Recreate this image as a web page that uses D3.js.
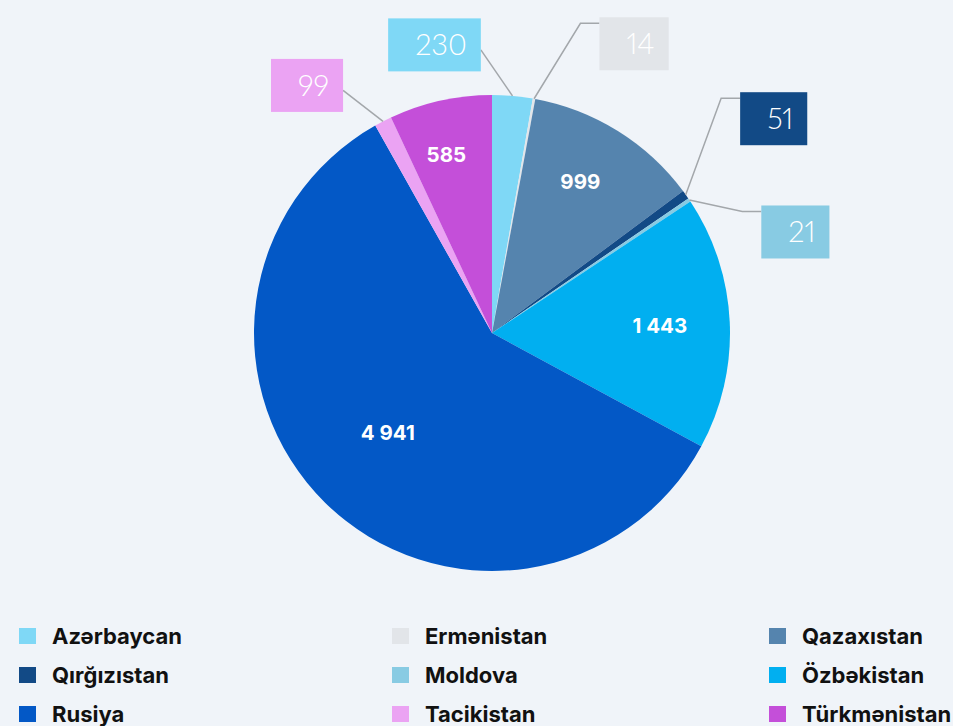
<!DOCTYPE html>
<html>
<head>
<meta charset="utf-8">
<script src="https://cdn.jsdelivr.net/npm/d3@7"></script>
<style>
  html, body { margin: 0; padding: 0; background: #f0f4f9; }
  svg { display: block; }
</style>
</head>
<body>
<svg id="chart" width="953" height="726"></svg>
<script>
// ---- data ----
const categories = ["Azərbaycan", "Ermənistan", "Qazaxıstan", "Qırğızıstan", "Moldova", "Özbəkistan", "Rusiya", "Tacikistan", "Türkmənistan"];
const values     = [230, 14, 999, 51, 21, 1443, 4941, 99, 585];
const labelTexts = ["230", "14", "999", "51", "21", "1 443", "4 941", "99", "585"];
const colors     = ["#7fd8f6", "#e2e5e9", "#5584ae", "#124a86", "#88cbe3", "#01aff0", "#0358c6", "#eba3f3", "#c44fd9"];

// ---- layout ----
const W = 953, H = 726;
const cx = 492, cy = 333, R = 238;
const outsideThreshold = 0.03; // share below which label goes outside in a box
// callout box centre offsets from the slice edge point (annotation layout)
const calloutOffsets = {
  "Azərbaycan": [-78, -51],
  "Ermənistan": [100, -55],
  "Qırğızıstan": [88, -76],
  "Moldova": [106, 32],
  "Tacikistan": [-76, -36]
};

const svg = d3.select("#chart");
svg.append("rect").attr("width", W).attr("height", H).attr("fill", "#f0f4f9");

const data = categories.map((c, i) => ({ name: c, value: values[i], label: labelTexts[i], color: colors[i] }));
const total = d3.sum(values);

const pie = d3.pie().value(d => d.value).sort(null);
const arcs = pie(data);
const arc = d3.arc().innerRadius(0).outerRadius(R);

const g = svg.append("g").attr("transform", `translate(${cx},${cy})`);

g.selectAll("path.slice").data(arcs).enter().append("path")
  .attr("class", "slice")
  .attr("d", arc)
  .attr("fill", d => d.data.color);

// inner labels
const inner = arcs.filter(a => a.data.value / total >= outsideThreshold);
g.selectAll("text.inner").data(inner).enter().append("text")
  .attr("class", "inner")
  .attr("transform", d => {
    const mid = (d.startAngle + d.endAngle) / 2;
    const spanDeg = (d.endAngle - d.startAngle) * 180 / Math.PI;
    const r = R * (0.79 - 0.00095 * spanDeg);
    return `translate(${r * Math.sin(mid) - 6},${-r * Math.cos(mid)})`;
  })
  .attr("text-anchor", "middle")
  .attr("dy", "0.36em")
  .attr("fill", "#ffffff")
  .style("font-family", "Inter, 'Open Sans', sans-serif")
  .style("font-weight", 700)
  .style("font-size", "20.5px")
  .text(d => d.data.label);

// outside callouts
const outer = arcs.filter(a => a.data.value / total < outsideThreshold);
const padL = 27, padR = 14, boxH = 53;
outer.forEach(d => {
  const mid = (d.startAngle + d.endAngle) / 2;
  const ex = R * Math.sin(mid), ey = -R * Math.cos(mid);
  const off = calloutOffsets[d.data.name] || [0, -60];
  const bcx = ex + off[0], bcy = ey + off[1];
  const grp = g.append("g");
  const line = grp.append("path").attr("fill", "none").attr("stroke", "#a3a7ab").attr("stroke-width", 1.5);
  const rect = grp.append("rect").attr("fill", d.data.color);
  const t = grp.append("text")
    .attr("fill", "#ffffff")
    .attr("dy", "0.36em")
    .style("font-family", "Lato, 'Open Sans', sans-serif")
    .style("font-weight", 300)
    .style("font-size", "29px")
    .style("font-variant-numeric", "proportional-nums")
    .text(d.data.label);
  const tw = t.node().getComputedTextLength();
  const bw = tw + padL + padR;
  const bx = bcx - bw / 2, by = bcy - boxH / 2;
  rect.attr("x", bx).attr("y", by).attr("width", bw).attr("height", boxH);
  t.attr("x", bx + padL).attr("y", bcy);
  let pts;
  if (off[0] > 0) {
    const ay = by + 6;
    pts = [[ex, ey], [bx - 19, ay], [bx, ay]];
  } else {
    const ay = bcy + 5;
    pts = [[ex, ey], [bx + bw, ay]];
  }
  line.attr("d", d3.line()(pts));
  line.lower();
});

// legend
const legendCols = [19, 392, 769];
const legendRows = [636, 675, 714];
const legend = svg.append("g");
data.forEach((d, i) => {
  const col = i % 3, row = Math.floor(i / 3);
  const x = legendCols[col], y = legendRows[row];
  legend.append("rect").attr("x", x).attr("y", y - 8).attr("width", 17).attr("height", 16).attr("fill", d.color);
  legend.append("text")
    .attr("x", x + 33).attr("y", y).attr("dy", "0.36em")
    .attr("fill", "#111111")
    .style("font-family", "Inter, 'Open Sans', sans-serif")
    .style("font-weight", 700)
    .style("font-size", "22px")
    .text(d.name);
});
</script>
</body>
</html>
